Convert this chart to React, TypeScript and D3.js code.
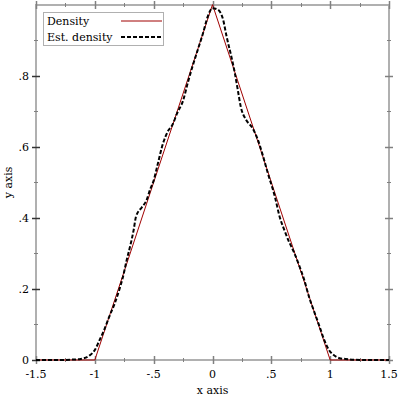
import React, { useEffect, useRef } from "react";
import * as d3 from "d3";

// exact density (triangle)
const densityX = [-1.5, -1, 0, 1, 1.5];
const densityY = [0, 0, 1, 0, 0];

// estimated density
const estX = [
  -1.5, -1.3, -1.2, -1.12, -1.04, -1.0, -0.96, -0.92, -0.88, -0.83, -0.79, -0.76,
  -0.73, -0.7, -0.67, -0.65, -0.6, -0.56, -0.53, -0.5, -0.47, -0.42, -0.38, -0.34,
  -0.3, -0.25, -0.21, -0.17, -0.125, -0.08, -0.04, 0.0, 0.045, 0.09, 0.12, 0.16,
  0.19, 0.215, 0.24, 0.285, 0.34, 0.385, 0.43, 0.47, 0.53, 0.57, 0.61, 0.65, 0.69,
  0.74, 0.78, 0.82, 0.86, 0.91, 0.95, 0.99, 1.03, 1.08, 1.13, 1.2, 1.3, 1.5,
];
const estY = [
  0, 0, 0.001, 0.003, 0.014, 0.028, 0.056, 0.085, 0.12, 0.16, 0.2, 0.235,
  0.28, 0.32, 0.366, 0.404, 0.43, 0.45, 0.48, 0.505, 0.545, 0.61, 0.643, 0.662,
  0.695, 0.73, 0.78, 0.826, 0.873, 0.92, 0.967, 0.99, 0.986, 0.958, 0.91, 0.854,
  0.807, 0.76, 0.713, 0.676, 0.653, 0.62, 0.573, 0.526, 0.46, 0.404, 0.366, 0.333, 0.305,
  0.263, 0.225, 0.178, 0.14, 0.094, 0.056, 0.028, 0.014, 0.005, 0.003, 0.001, 0, 0,
];

const xMajor = [-1.5, -1, -0.5, 0, 0.5, 1, 1.5];
const xMinor = [-1.25, -0.75, -0.25, 0.25, 0.75, 1.25];
const yMajor = [0, 0.2, 0.4, 0.6, 0.8];
const yMinor = [0.1, 0.3, 0.5, 0.7, 0.9];
const legendLabels = ["Density", "Est. density"];

const fmt = (v: number) => {
  if (v === 0) return "0";
  let s = String(v);
  s = s.replace(/^0\./, ".").replace(/^-0\./, "-.");
  return s;
};

export default function App() {
  const ref = useRef<SVGSVGElement>(null);

  useEffect(() => {
    const svg = d3.select(ref.current);
    svg.selectAll("*").remove();
    const left = 36, right = 389, top = 5, bottom = 360;
    const font = "DejaVu Serif";
    const axisCol = "#b0b0b0";
    const tickCol = "#808080";

    const x = d3.scaleLinear().domain([-1.5, 1.5]).range([left, right]);
    const y = d3.scaleLinear().domain([0, 0.999]).range([bottom, top]);

    const g = svg.append("g");

    // frame
    g.append("rect")
      .attr("x", left).attr("y", top)
      .attr("width", right - left).attr("height", bottom - top)
      .attr("fill", "none").attr("stroke", axisCol).attr("stroke-width", 2);

    // x ticks, bottom and top
    [bottom, top].forEach((yy) => {
      g.selectAll(null).data(xMajor).join("line")
        .attr("x1", (d) => Math.round(x(d)) + 0.5).attr("x2", (d) => Math.round(x(d)) + 0.5)
        .attr("y1", yy - 4).attr("y2", yy + 4)
        .attr("stroke", tickCol).attr("stroke-width", 1.5);
      g.selectAll(null).data(xMinor).join("line")
        .attr("x1", (d) => Math.round(x(d)) + 0.5).attr("x2", (d) => Math.round(x(d)) + 0.5)
        .attr("y1", yy - 2).attr("y2", yy + 2)
        .attr("stroke", tickCol).attr("stroke-width", 1);
    });
    // y ticks, left and right
    [left, right].forEach((xx) => {
      g.selectAll(null).data(yMajor).join("line")
        .attr("y1", (d) => Math.round(y(d)) + 0.5).attr("y2", (d) => Math.round(y(d)) + 0.5)
        .attr("x1", xx - 4).attr("x2", xx + 4)
        .attr("stroke", xx === left ? "#333" : tickCol).attr("stroke-width", 1.5);
      g.selectAll(null).data(yMinor).join("line")
        .attr("y1", (d) => Math.round(y(d)) + 0.5).attr("y2", (d) => Math.round(y(d)) + 0.5)
        .attr("x1", xx - 2).attr("x2", xx + 2)
        .attr("stroke", tickCol).attr("stroke-width", 1);
    });

    // tick labels
    g.selectAll(null).data(xMajor).join("text")
      .attr("x", (d) => x(d)).attr("y", bottom + 18)
      .attr("text-anchor", "middle")
      .attr("font-family", font).attr("font-size", 11)
      .text((d) => fmt(d));
    g.selectAll(null).data(yMajor).join("text")
      .attr("x", left - 7).attr("y", (d) => y(d) + 4)
      .attr("text-anchor", "end")
      .attr("font-family", font).attr("font-size", 11)
      .text((d) => fmt(d));

    // axis titles
    g.append("text")
      .attr("x", (left + right) / 2).attr("y", 394)
      .attr("text-anchor", "middle")
      .attr("font-family", font).attr("font-size", 11)
      .text("x axis");
    g.append("text")
      .attr("transform", `translate(12, ${(top + bottom) / 2}) rotate(-90)`)
      .attr("text-anchor", "middle")
      .attr("font-family", font).attr("font-size", 11)
      .text("y axis");

    // density
    const dens = d3.line<number>()
      .x((d) => x(d))
      .y((d, i) => y(densityY[i]));
    g.append("path")
      .attr("d", dens(densityX))
      .attr("fill", "none").attr("stroke", "#a00000").attr("stroke-width", 1);

    // estimated density
    const est = d3.line<number>()
      .x((d) => x(d))
      .y((d, i) => y(estY[i]))
      .curve(d3.curveMonotoneX);
    g.append("path")
      .attr("d", est(estX))
      .attr("fill", "none").attr("stroke", "#000").attr("stroke-width", 2)
      .attr("stroke-dasharray", "4 2");

    // legend
    const lg = g.append("g");
    lg.append("rect")
      .attr("x", 43.5).attr("y", 12.5).attr("width", 120).attr("height", 33)
      .attr("fill", "white").attr("stroke", "#b0b0b0");
    legendLabels.forEach((lab, i) => {
      const yy = 21 + i * 16;
      lg.append("text")
        .attr("x", 47).attr("y", yy + 4)
        .attr("font-family", font).attr("font-size", 11)
        .text(lab);
      lg.append("line")
        .attr("x1", 121).attr("x2", 162).attr("y1", yy).attr("y2", yy)
        .attr("stroke", i === 0 ? "#a00000" : "#000")
        .attr("stroke-width", i === 0 ? 1 : 2)
        .attr("stroke-dasharray", i === 0 ? null : "4 2");
    });
  }, []);

  return (
    <svg
      ref={ref}
      width={400}
      height={400}
      style={{ position: "absolute", left: 0, top: 0, background: "white" }}
    />
  );
}
